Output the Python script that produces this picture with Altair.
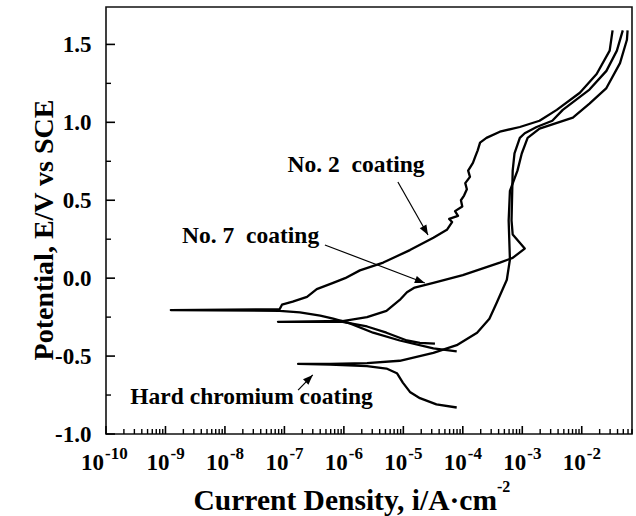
import altair as alt
import pandas as pd

# ---------------- data ----------------
# No. 2 coating: cathodic end -> Ecorr -> anodic end
no2_i = [7.9e-5, 3.2e-5, 8.7e-6, 3.1e-6, 1.26e-6, 6.6e-7, 4.0e-7, 1.82e-7, 8.3e-8, 1.23e-9,
         8.3e-8, 9.1e-8, 1.38e-7, 2.4e-7, 3.5e-7, 6.6e-7, 1.05e-6, 1.86e-6, 4.6e-6, 1.29e-5,
         3.2e-5, 5.4e-5, 6.6e-5, 5.9e-5, 8.3e-5, 7.4e-5, 9.8e-5, 9.3e-5, 1.05e-4, 1.17e-4,
         1.1e-4, 1.32e-4, 1.23e-4, 1.48e-4, 1.62e-4, 1.78e-4, 1.95e-4, 2.5e-4, 4.2e-4, 9.1e-4,
         1.95e-3, 3.8e-3, 9.3e-3, 1.78e-2, 2.95e-2, 3.3e-2]
no2_E = [-0.47, -0.45, -0.40, -0.35, -0.29, -0.26, -0.24, -0.22, -0.21, -0.205,
         -0.20, -0.17, -0.15, -0.12, -0.07, -0.03, 0.0, 0.05, 0.10, 0.18,
         0.26, 0.31, 0.36, 0.38, 0.40, 0.43, 0.46, 0.50, 0.53, 0.57,
         0.61, 0.65, 0.69, 0.74, 0.78, 0.82, 0.87, 0.90, 0.94, 0.97,
         1.01, 1.08, 1.19, 1.31, 1.46, 1.59]

# No. 7 coating
no7_i = [3.4e-5, 1.9e-5, 1.15e-5, 5.2e-6, 2.45e-6, 9.5e-7, 7.8e-8, 9.5e-7, 2.45e-6, 5.2e-6,
         8.7e-6, 1.15e-5, 1.55e-5, 3.2e-5, 1.0e-4, 4.2e-4, 6.9e-4, 1.1e-3, 6.9e-4, 6.6e-4,
         6.9e-4, 7.4e-4, 9.1e-4, 1.1e-3, 1.74e-3, 3.2e-3, 4.8e-3, 1.35e-2, 2.6e-2, 3.9e-2,
         4.9e-2]
no7_E = [-0.42, -0.415, -0.40, -0.35, -0.31, -0.28, -0.28, -0.275, -0.25, -0.21,
         -0.14, -0.09, -0.06, -0.03, 0.02, 0.10, 0.13, 0.19, 0.28, 0.37,
         0.69, 0.80, 0.90, 0.93, 0.97, 1.01, 1.08, 1.21, 1.33, 1.46,
         1.59]

# Hard chromium coating
hc_i = [7.9e-5, 3.6e-5, 1.9e-5, 1.29e-5, 9.8e-6, 7.8e-6, 5.2e-6, 2.45e-6, 5.8e-7, 1.7e-7,
        5.8e-7, 2.45e-6, 8.7e-6, 3.2e-5, 7.9e-5, 1.74e-4, 2.8e-4, 3.7e-4, 5.5e-4, 6.2e-4,
        5.9e-4, 6.2e-4, 8.3e-4, 9.8e-4, 1.23e-3, 1.95e-3, 7.1e-3, 1.35e-2, 2.6e-2, 4.4e-2,
        5.75e-2, 5.9e-2]
hc_E = [-0.83, -0.81, -0.77, -0.73, -0.67, -0.61, -0.58, -0.565, -0.555, -0.55,
        -0.55, -0.545, -0.53, -0.48, -0.43, -0.35, -0.26, -0.16, -0.01, 0.12,
        0.37, 0.56, 0.69, 0.80, 0.90, 0.96, 1.03, 1.12, 1.22, 1.38,
        1.53, 1.59]

decade_exponents = [-10, -9, -8, -7, -6, -5, -4, -3, -2]
minor_multipliers = [2, 3, 4, 5, 6, 7, 8, 9]
y_major = [-1.0, -0.5, 0.0, 0.5, 1.0, 1.5]
y_minor = [-0.75, -0.25, 0.25, 0.75, 1.25]

labels = ["No. 2\u00a0 coating", "No. 7\u00a0 coating", "Hard chromium coating"]
label_i = [1.6e-6, 2.7e-8, 2.8e-8]
label_E = [0.68, 0.226, -0.807]

arrow_tail_i = [8.1e-6, 4.8e-7, 1.7e-7]
arrow_tail_E = [0.617, 0.213, -0.718]
arrow_head_i = [2.6e-5, 2.3e-5, 3.0e-7]
arrow_head_E = [0.277, -0.031, -0.621]
arrow_angle = [150.5, 110.7, 45.0]

X_MAX = 0.07
Y_MIN, Y_MAX = -1.0, 1.74

# ---------------- layout ----------------
W, H = 526, 427
FONT = "Liberation Serif"

xscale = alt.Scale(type="log", domain=[1e-10, X_MAX], nice=False)
yscale = alt.Scale(domain=[Y_MIN, Y_MAX], nice=False, zero=False)
yaxis = alt.Axis(values=y_major, ticks=False, domain=False, grid=False, title=None,
                 labelFont=FONT, labelFontWeight="bold", labelFontSize=23,
                 labelColor="black", labelPadding=15, labelFlush=False,
                 labelOverlap=False, labelBound=False,
                 labelExpr="(datum.value < 0 ? '-' : '') + format(abs(datum.value), '.1f')")


def xenc(f="i"):
    return alt.X(f"{f}:Q", scale=xscale, axis=None)


def yenc(f="E"):
    return alt.Y(f"{f}:Q", scale=yscale, axis=yaxis)


rows = []
for name, ii, ee in [("No. 2", no2_i, no2_E), ("No. 7", no7_i, no7_E), ("Hard chromium", hc_i, hc_E)]:
    for k, (a, b) in enumerate(zip(ii, ee)):
        rows.append({"curve": name, "idx": k, "i": a, "E": b})
curves = pd.DataFrame(rows)

lines = alt.Chart(curves).mark_line(color="black", strokeWidth=2.3, strokeJoin="round").encode(
    x=xenc(), y=yenc(), detail="curve:N", order="idx:Q")

# arrows
arows = []
for k in range(len(labels)):
    arows.append({"arrow": k, "end": 0, "i": arrow_tail_i[k], "E": arrow_tail_E[k]})
    arows.append({"arrow": k, "end": 1, "i": arrow_head_i[k], "E": arrow_head_E[k]})
arrow_lines = alt.Chart(pd.DataFrame(arows)).mark_line(color="black", strokeWidth=1.2).encode(
    x=xenc(), y=yenc(), detail="arrow:N", order="end:Q")
heads = pd.DataFrame({"i": arrow_head_i, "E": arrow_head_E, "angle": arrow_angle})
arrow_heads = alt.Chart(heads).mark_point(
    shape="M0,0L0.38,1L-0.38,1Z", filled=True, size=400, color="black", opacity=1, strokeWidth=0
).encode(x=xenc(), y=yenc(), angle=alt.Angle("angle:Q", scale=None))

ann = pd.DataFrame({"label": labels, "i": label_i, "E": label_E})
ann_text = alt.Chart(ann).mark_text(font=FONT, fontWeight="bold", fontSize=23.5, align="center",
                                    baseline="alphabetic", color="black").encode(
    x=xenc(), y=yenc(), text="label:N")

# inward ticks
x_major = [10.0 ** e for e in decade_exponents]
x_minor = [m * 10.0 ** e for e in decade_exponents for m in minor_multipliers if m * 10.0 ** e <= X_MAX]
xmaj = alt.Chart(pd.DataFrame({"i": x_major})).mark_rule(color="black", strokeWidth=1.6).encode(
    x=xenc(), y=alt.value(H), y2=alt.value(H - 8))
xmin = alt.Chart(pd.DataFrame({"i": x_minor})).mark_rule(color="black", strokeWidth=1.4).encode(
    x=xenc(), y=alt.value(H), y2=alt.value(H - 5))
ymaj = alt.Chart(pd.DataFrame({"E": y_major})).mark_rule(color="black", strokeWidth=1.6).encode(
    y=yenc(), x=alt.value(0), x2=alt.value(9))
ymin = alt.Chart(pd.DataFrame({"E": y_minor})).mark_rule(color="black", strokeWidth=1.4).encode(
    y=yenc(), x=alt.value(0), x2=alt.value(5))

# x tick labels 10^n
dec = pd.DataFrame({"i": x_major, "exp": [str(e) for e in decade_exponents]})
dec_first = dec.iloc[:1]
dec_rest = dec.iloc[1:]
txt = dict(font=FONT, fontWeight="bold", color="black", baseline="alphabetic")
ten_first = alt.Chart(dec_first).mark_text(align="right", dx=-2, fontSize=23, **txt).encode(
    x=xenc(), y=alt.value(H + 36), text=alt.value("10"))
ten_rest = alt.Chart(dec_rest).mark_text(align="right", dx=4, fontSize=23, **txt).encode(
    x=xenc(), y=alt.value(H + 36), text=alt.value("10"))
exp_first = alt.Chart(dec_first).mark_text(align="left", dx=-1, fontSize=17, **txt).encode(
    x=xenc(), y=alt.value(H + 25), text="exp:N")
exp_rest = alt.Chart(dec_rest).mark_text(align="left", dx=5, fontSize=17, **txt).encode(
    x=xenc(), y=alt.value(H + 25), text="exp:N")

# axis titles
one = pd.DataFrame({"k": [0]})
xtitle = alt.Chart(one).mark_text(align="right", fontSize=29.5, **txt).encode(
    x=alt.value(391), y=alt.value(H + 76), text=alt.value("Current Density, i/A\u00b7cm"))
xtitle_sup = alt.Chart(one).mark_text(align="left", fontSize=16, **txt).encode(
    x=alt.value(391), y=alt.value(H + 58), text=alt.value("-2"))
ytitle = alt.Chart(one).mark_text(align="center", angle=270, fontSize=28, **txt).encode(
    x=alt.value(-53), y=alt.value(223), text=alt.value("Potential, E/V vs SCE"))

chart = alt.layer(
    xmaj, xmin, ymaj, ymin,
    lines, arrow_lines, arrow_heads, ann_text,
    ten_first, ten_rest, exp_first, exp_rest,
    xtitle, xtitle_sup, ytitle,
).properties(
    width=W, height=H,
    autosize=alt.AutoSizeParams(type="none"),
    padding={"left": 106, "top": 7, "right": 4, "bottom": 82},
    background="white",
).configure_view(stroke="#111", strokeWidth=1.6)

chart.save("out.html", embed_options={"renderer": "svg", "actions": False})
